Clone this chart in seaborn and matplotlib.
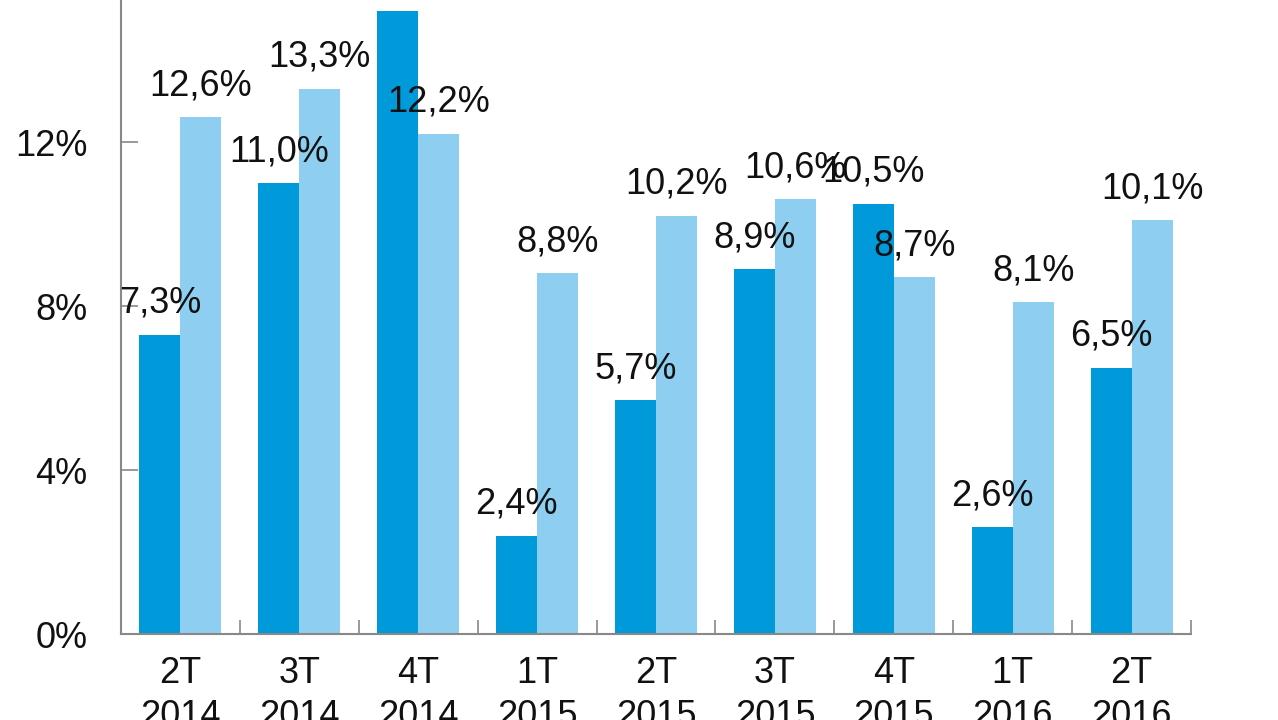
import matplotlib
matplotlib.use("Agg")
import matplotlib.pyplot as plt
import seaborn as sns
import pandas as pd

# data
quarters = ["2T\n2014", "3T\n2014", "4T\n2014", "1T\n2015", "2T\n2015",
            "3T\n2015", "4T\n2015", "1T\n2016", "2T\n2016"]
serie_a = [7.3, 11.0, 15.2, 2.4, 5.7, 8.9, 10.5, 2.6, 6.5]
serie_b = [12.6, 13.3, 12.2, 8.8, 10.2, 10.6, 8.7, 8.1, 10.1]
y_ticks = [0, 4, 8, 12]
y_labels = ["0%", "4%", "8%", "12%"]

df = pd.DataFrame({
    "Trimestre": quarters * 2,
    "Valor": serie_a + serie_b,
    "Serie": ["A"] * len(serie_a) + ["B"] * len(serie_b),
})

sns.set_style("white")
plt.rcParams["font.family"] = ["Liberation Sans", "DejaVu Sans"]

fig = plt.figure(figsize=(12.78, 7.2), dpi=100)
ax = fig.add_axes([121 / 1278, 86 / 720, 1070 / 1278, 634 / 720])

sns.barplot(data=df, x="Trimestre", y="Valor", hue="Serie",
            order=quarters, hue_order=["A", "B"],
            palette={"A": "#0099DA", "B": "#8ECFF1"},
            width=0.69, saturation=1, linewidth=0, legend=False, ax=ax)

# the chart is cropped at the top, so the highest labels fall off the canvas
for cont in ax.containers:
    labels = [f"{b.get_height():.1f}%".replace(".", ",") for b in cont]
    ax.bar_label(cont, labels=labels, padding=10, fontsize=26,
                 color="#111111")

ax.set_ylim(0, 634 / 41)
ax.set_xlim(-0.5, len(quarters) - 0.5)
ax.set_yticks(y_ticks)
ax.set_yticklabels(y_labels, fontsize=26, color="#111111")
ax.set_xticks(range(len(quarters)))
ax.set_xticklabels(quarters, fontsize=26, color="#111111", linespacing=1.3)
ax.set_xticks([i + 0.5 for i in range(len(quarters))], minor=True)

ax.tick_params(axis="y", direction="in", length=12, width=1.2,
               color="#888888", pad=24, left=True)
ax.tick_params(axis="x", which="major", length=0, pad=16)
ax.tick_params(axis="x", which="minor", direction="in", length=10,
               width=1.2, color="#888888", bottom=True)

for side in ["top", "right"]:
    ax.spines[side].set_visible(False)
for side in ["left", "bottom"]:
    ax.spines[side].set_color("#888888")
    ax.spines[side].set_linewidth(1.5)

ax.set_xlabel("")
ax.set_ylabel("")

fig.savefig("out.png", dpi=100)
